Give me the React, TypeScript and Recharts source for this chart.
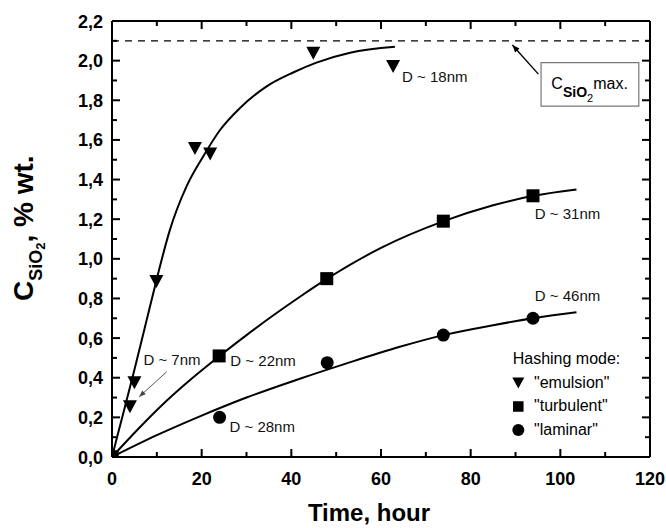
import {
  ComposedChart,
  Line,
  Scatter,
  XAxis,
  YAxis,
  ReferenceLine,
  ReferenceDot,
  ReferenceArea,
  Legend,
} from "recharts";

const FONT = "'Liberation Sans', Arial, Helvetica, sans-serif";

// measured points (time in hours, SiO2 content in % wt.)
const emulsionT = [0, 4.0, 5.0, 9.9, 18.5, 21.9, 44.9, 62.7];
const emulsionC = [0, 0.254, 0.375, 0.885, 1.557, 1.529, 2.037, 1.97];
const turbulentT = [0, 23.9, 47.9, 73.9, 93.9];
const turbulentC = [0, 0.51, 0.9, 1.19, 1.318];
const laminarT = [0, 24, 48, 73.9, 93.9];
const laminarC = [0, 0.2, 0.476, 0.615, 0.7];

// fitted curves
const emulsionFitT = [0, 2.5, 5, 7.5, 10, 12.9, 16.6, 20.3, 24.1, 28.5, 34.5, 40.4, 45.6, 53.1, 63.1];
const emulsionFitC = [0, 0.22, 0.44, 0.67, 0.9, 1.145, 1.364, 1.515, 1.65, 1.76, 1.87, 1.94, 1.99, 2.04, 2.07];
const turbulentFitT = [0, 6, 12, 18, 24, 30, 36, 42, 48, 60, 74, 85, 94, 103.6];
const turbulentFitC = [0, 0.145, 0.28, 0.4, 0.51, 0.615, 0.715, 0.81, 0.9, 1.055, 1.19, 1.27, 1.318, 1.35];
const laminarFitT = [0, 10, 19.6, 30, 41.9, 52, 64.2, 73.9, 85, 93.9, 103.6];
const laminarFitC = [0, 0.11, 0.205, 0.3, 0.395, 0.47, 0.556, 0.615, 0.665, 0.7, 0.73];

const cMax = 2.1;

const xTicks = [0, 10, 20, 30, 40, 50, 60, 70, 80, 90, 100, 110, 120];
const yTicks = [
  0, 0.1, 0.2, 0.3, 0.4, 0.5, 0.6, 0.7, 0.8, 0.9, 1.0, 1.1, 1.2, 1.3, 1.4, 1.5, 1.6, 1.7, 1.8, 1.9, 2.0,
  2.1, 2.2,
];

const sizeLabels = ["D ~ 18nm", "D ~ 31nm", "D ~ 46nm", "D ~ 22nm", "D ~ 28nm", "D ~ 7nm"];
const legendLabels = ['"emulsion"', '"turbulent"', '"laminar"'];

// where the size notes sit, in axis units
const notePos = [
  { t: 64.7, c: 1.892 },
  { t: 94.3, c: 1.201 },
  { t: 94.3, c: 0.787 },
  { t: 26.4, c: 0.457 },
  { t: 26.2, c: 0.124 },
  { t: 7.0, c: 0.464 },
];

const zip = (ts: number[], cs: number[]) => ts.map((t, i) => ({ t, y: cs[i] }));

const emulsion = zip(emulsionT, emulsionC);
const turbulent = zip(turbulentT, turbulentC);
const laminar = zip(laminarT, laminarC);
const emulsionFit = zip(emulsionFitT, emulsionFitC);
const turbulentFit = zip(turbulentFitT, turbulentFitC);
const laminarFit = zip(laminarFitT, laminarFitC);

type Kind = "tri" | "sq" | "dot";

function Marker({ kind, cx, cy, s }: { kind: Kind; cx: number; cy: number; s: number }) {
  if (kind === "tri") {
    const h = s * 0.93;
    return (
      <polygon
        points={`${cx - s / 2},${cy - h / 2} ${cx + s / 2},${cy - h / 2} ${cx},${cy + h / 2}`}
        fill="#000"
      />
    );
  }
  if (kind === "sq") {
    return <rect x={cx - s / 2} y={cy - s / 2} width={s} height={s} fill="#000" />;
  }
  return <circle cx={cx} cy={cy} r={s / 2} fill="#000" />;
}

const isMajorX = (v: number) => v % 20 === 0;
const isMajorY = (v: number) => Math.round(v * 10) % 2 === 0;
const fmtY = (v: number) => v.toFixed(1).replace(".", ",");

const tickText = {
  fontFamily: FONT,
  fontWeight: "bold" as const,
  fontSize: 18,
  fill: "#000",
};

// inward tick marks, drawn as short filled bars
const Mark = ({ x, y, w, h }: { x: number; y: number; w: number; h: number }) => (
  <rect x={Math.min(x, x + w)} y={Math.min(y, y + h)} width={Math.abs(w)} height={Math.abs(h)} fill="#000" />
);

// axes are 1px thick boxes: recharts skips axes of zero size
function BottomTick(p: any) {
  const v = p.payload.value;
  const major = isMajorX(v);
  return (
    <g>
      <Mark x={p.x - 1} y={p.y} w={2} h={major ? -8 : -5} />
      {major && (
        <text x={p.x} y={p.y + 28} textAnchor="middle" {...tickText}>
          {v}
        </text>
      )}
    </g>
  );
}

function TopTick(p: any) {
  const major = isMajorX(p.payload.value);
  return <Mark x={p.x - 1} y={p.y} w={2} h={major ? 8 : 5} />;
}

function LeftTick(p: any) {
  const v = p.payload.value;
  const major = isMajorY(v);
  return (
    <g>
      <Mark x={p.x} y={p.y - 1} w={major ? 8 : 5} h={2} />
      {major && (
        <text x={p.x - 9} y={p.y + 6.5} textAnchor="end" {...tickText}>
          {fmtY(v)}
        </text>
      )}
    </g>
  );
}

function RightTick(p: any) {
  const major = isMajorY(p.payload.value);
  return <Mark x={p.x} y={p.y - 1} w={major ? -8 : -5} h={2} />;
}

function XTitle(p: any) {
  const vb = p.viewBox ?? { x: 112, y: 457, width: 538, height: 1 };
  return (
    <text
      x={vb.x + vb.width / 2 - 12}
      y={vb.y + 64}
      textAnchor="middle"
      fontFamily={FONT}
      fontWeight="bold"
      fontSize={24}
      fill="#000"
    >
      Time, hour
    </text>
  );
}

function YTitle(p: any) {
  const vb = p.viewBox ?? { x: 111, y: 21, width: 1, height: 436 };
  return (
    <text
      transform="rotate(-90)"
      x={-(vb.y + 280)}
      y={vb.x - 78}
      fontFamily={FONT}
      fontWeight="bold"
      fontSize={28}
      fill="#000"
    >
      C
      <tspan fontSize={18} dy={8.7}>
        SiO
      </tspan>
      <tspan fontSize={13} dy={3.3}>
        2
      </tspan>
      <tspan dy={-12}>, % wt.</tspan>
    </text>
  );
}

function Arrow(p: any, width: number, color: string, head: number) {
  const { x1, y1, x2, y2 } = p;
  const a = Math.atan2(y2 - y1, x2 - x1);
  const w = 0.38;
  const hx1 = x2 - head * Math.cos(a - w);
  const hy1 = y2 - head * Math.sin(a - w);
  const hx2 = x2 - head * Math.cos(a + w);
  const hy2 = y2 - head * Math.sin(a + w);
  return (
    <g>
      <line x1={x1} y1={y1} x2={x2} y2={y2} stroke={color} strokeWidth={width} />
      <polygon points={`${x2},${y2} ${hx1},${hy1} ${hx2},${hy2}`} fill={color} />
    </g>
  );
}

function LegendBox() {
  const kinds: Kind[] = ["tri", "sq", "dot"];
  const sizes = [12, 10.5, 12];
  return (
    <svg width={150} height={100} style={{ display: "block" }}>
      <text x={7.7} y={18.5} fontFamily={FONT} fontSize={16} fill="#000">
        Hashing mode:
      </text>
      {legendLabels.map((lab, i) => {
        const cy = 38 + i * 23.5;
        return (
          <g key={lab}>
            <Marker kind={kinds[i]} cx={13.3} cy={cy} s={sizes[i]} />
            <text x={29} y={cy + 4.8} fontFamily={FONT} fontSize={16} fill="#000">
              {lab}
            </text>
          </g>
        );
      })}
    </svg>
  );
}

export default function App() {
  return (
    <div style={{ position: "absolute", left: 0, top: 0, width: 666, height: 528, background: "#fff" }}>
      <ComposedChart width={666} height={528} margin={{ top: 20, right: 15, bottom: 70, left: 111 }}>
        <XAxis
          dataKey="t"
          type="number"
          domain={[0, 120]}
          ticks={xTicks}
          interval={0}
          allowDataOverflow
          height={1}
          tickSize={0}
          tickMargin={0}
          tickLine={false}
          tick={BottomTick}
          axisLine={{ stroke: "#000", strokeWidth: 2 }}
          label={XTitle}
        />
        <XAxis
          xAxisId="top"
          dataKey="t"
          orientation="top"
          type="number"
          domain={[0, 120]}
          ticks={xTicks}
          interval={0}
          allowDataOverflow
          height={1}
          tickSize={0}
          tickMargin={0}
          tickLine={false}
          tick={TopTick}
          axisLine={{ stroke: "#000", strokeWidth: 2 }}
        />
        <YAxis
          type="number"
          domain={[0, 2.2]}
          ticks={yTicks}
          interval={0}
          allowDataOverflow
          width={1}
          tickSize={0}
          tickMargin={0}
          tickLine={false}
          tick={LeftTick}
          axisLine={{ stroke: "#000", strokeWidth: 2 }}
          label={YTitle}
        />
        <YAxis
          yAxisId="right"
          orientation="right"
          type="number"
          domain={[0, 2.2]}
          ticks={yTicks}
          interval={0}
          allowDataOverflow
          width={1}
          tickSize={0}
          tickMargin={0}
          tickLine={false}
          tick={RightTick}
          axisLine={{ stroke: "#000", strokeWidth: 2 }}
        />

        <ReferenceLine y={cMax} stroke="#000" strokeWidth={1.3} strokeDasharray="7 6" />

        {/* invisible copy so the mirrored top/right axes get their ticks */}
        <Line xAxisId="top" yAxisId="right" data={turbulentFit} dataKey="y" stroke="none" dot={false} activeDot={false} isAnimationActive={false} />

        <Line data={emulsionFit} dataKey="y" type="monotone" stroke="#000" strokeWidth={2} dot={false} activeDot={false} isAnimationActive={false} />
        <Line data={turbulentFit} dataKey="y" type="monotone" stroke="#000" strokeWidth={2} dot={false} activeDot={false} isAnimationActive={false} />
        <Line data={laminarFit} dataKey="y" type="monotone" stroke="#000" strokeWidth={2} dot={false} activeDot={false} isAnimationActive={false} />

        <Scatter data={laminar} dataKey="y" isAnimationActive={false} shape={(p: any) => <Marker kind="dot" cx={p.cx} cy={p.cy} s={13} />} />
        <Scatter data={emulsion} dataKey="y" isAnimationActive={false} shape={(p: any) => <Marker kind="tri" cx={p.cx} cy={p.cy} s={14} />} />
        <Scatter data={turbulent} dataKey="y" isAnimationActive={false} shape={(p: any) => <Marker kind="sq" cx={p.cx} cy={p.cy} s={13} />} />

        {sizeLabels.map((lab, i) => (
          <ReferenceDot
            key={lab}
            x={notePos[i].t}
            y={notePos[i].c}
            r={0}
            ifOverflow="visible"
            shape={(p: any) => (
              <text x={p.cx} y={p.cy} fontFamily={FONT} fontSize={15} fill="#111">
                {lab}
              </text>
            )}
          />
        ))}

        <ReferenceLine
          segment={[
            { x: 12.2, y: 0.43 },
            { x: 6.06, y: 0.304 },
          ]}
          ifOverflow="visible"
          shape={(p: any) => Arrow(p, 0.9, "#444", 7)}
        />

        <ReferenceArea x1={95.7} x2={117.5} y1={1.77} y2={1.99} fill="#fff" fillOpacity={1} stroke="#777" strokeWidth={1.2} ifOverflow="visible" />
        <ReferenceDot
          x={98.0}
          y={1.857}
          r={0}
          ifOverflow="visible"
          shape={(p: any) => (
            <text x={p.cx} y={p.cy} fontFamily={FONT} fontSize={16} fill="#000">
              C
              <tspan fontSize={14} fontWeight="bold" dy={7.7}>
                SiO
              </tspan>
              <tspan fontSize={11} dy={5}>
                2
              </tspan>
              <tspan dy={-12.7}>max.</tspan>
            </text>
          )}
        />
        <ReferenceLine
          segment={[
            { x: 95.1, y: 1.932 },
            { x: 89.3, y: 2.079 },
          ]}
          ifOverflow="visible"
          shape={(p: any) => Arrow(p, 1.4, "#000", 8)}
        />

        <Legend
          layout="vertical"
          verticalAlign="middle"
          align="center"
          wrapperStyle={{ left: 505, top: 345, width: 150, height: 100 }}
          content={() => <LegendBox />}
        />
      </ComposedChart>
    </div>
  );
}
